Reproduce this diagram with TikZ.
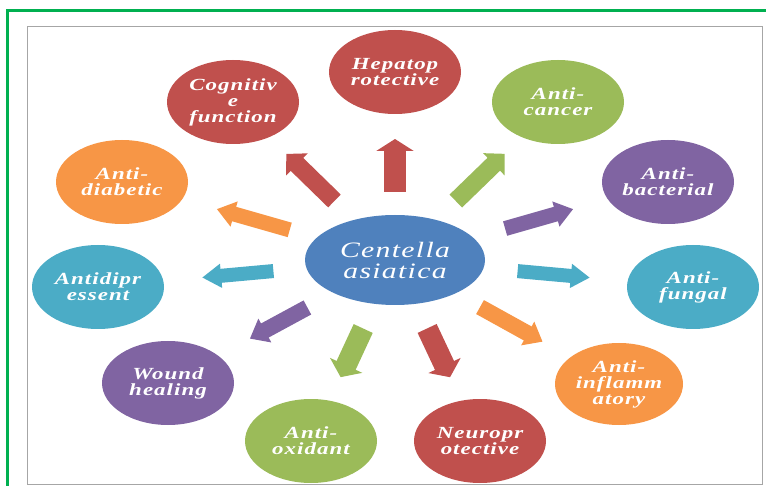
\documentclass[tikz,border=0pt]{standalone}
\usepackage{fontspec}
\setmainfont{Liberation Serif}
\newfontfamily\etiq[FakeStretch=1.35,LetterSpace=6]{Liberation Serif}
\usetikzlibrary{arrows.meta,shapes.geometric}

\definecolor{rojo}{HTML}{C0504D}
\definecolor{verdeo}{HTML}{9BBB59}
\definecolor{morado}{HTML}{8064A2}
\definecolor{turquesa}{HTML}{4BACC6}
\definecolor{naranja}{HTML}{F79646}
\definecolor{azul}{HTML}{4F81BD}
\definecolor{marco}{HTML}{00B050}

\tikzset{
  efecto/.style={ellipse, fill=#1, text=white, minimum width=132pt, minimum height=84pt,
    inner sep=0pt, outer sep=0pt, align=center,
    font=\etiq\bfseries\itshape\fontsize{17}{16}\selectfont},
  flecha/.style n args={4}{draw=#1, line width=#2, -{Triangle[width=#3, length=#4]}},
}

\begin{document}
\begin{tikzpicture}[x=1pt, y=-1pt]
	\useasboundingbox (0,0) rectangle (766,486);

	% Marcos
	\draw[marco, line width=3pt] (7,495) |- (775,11);
	\draw[gray!70, line width=1pt] (27,27) rectangle (762,484);

	% Nodo central
	\node[ellipse, fill=azul, text=white, minimum width=180pt, minimum height=90pt,
	  inner sep=0pt, align=center, font=\etiq\itshape\fontsize{22}{21}\selectfont]
	  (ctr) at (395,260) {Centella\\asiatica};

	% Efectos
	\node[efecto=rojo] (hep) at (395,72) {Hepatop\\rotective};
	\node[efecto=rojo] (cog) at (233,102) {Cognitiv\\e\\function};
	\node[efecto=verdeo] (can) at (558,102) {Anti-\\cancer};
	\node[efecto=morado] (bac) at (668,182) {Anti-\\bacterial};
	\node[efecto=turquesa] (fun) at (693,287) {Anti-\\fungal};
	\node[efecto=naranja, minimum width=128pt, minimum height=82pt] (inf) at (619,384) {Anti-\\inflamm\\atory};
	\node[efecto=rojo] (neu) at (480,441) {Neuropr\\otective};
	\node[efecto=verdeo] (oxi) at (311,441) {Anti-\\oxidant};
	\node[efecto=morado] (wou) at (168,383) {Wound\\healing};
	\node[efecto=turquesa] (dep) at (98,287) {Antidipr\\essent};
	\node[efecto=naranja] (dia) at (122,182) {Anti-\\diabetic};

	% Flechas
	\draw[flecha={rojo}{22pt}{37pt}{12pt}, shorten <=23pt, shorten >=25pt] (ctr) -- (hep);
	\draw[flecha={rojo}{18pt}{30pt}{15pt}, shorten <=27pt, shorten >=24pt] (ctr) -- (cog);
	\draw[flecha={verdeo}{18pt}{30pt}{15pt}, shorten <=27pt, shorten >=24pt] (ctr) -- (can);
	\draw[flecha={morado}{15pt}{25pt}{18pt}, shorten <=33pt, shorten >=36pt] (ctr) -- (bac);
	\draw[flecha={turquesa}{14pt}{23pt}{19pt}, shorten <=34pt, shorten >=38pt] (ctr) -- (fun);
	\draw[flecha={naranja}{16pt}{26pt}{17pt}, shorten <=28pt, shorten >=32pt] (ctr) -- (inf);
	\draw[flecha={rojo}{21pt}{35pt}{13pt}, shorten <=27pt, shorten >=26pt] (ctr) -- (neu);
	\draw[flecha={verdeo}{21pt}{35pt}{13pt}, shorten <=27pt, shorten >=26pt] (ctr) -- (oxi);
	\draw[flecha={morado}{16pt}{26pt}{17pt}, shorten <=30pt, shorten >=36pt] (ctr) -- (wou);
	\draw[flecha={turquesa}{14pt}{23pt}{19pt}, shorten <=33pt, shorten >=39pt] (ctr) -- (dep);
	\draw[flecha={naranja}{15pt}{25pt}{18pt}, shorten <=28pt, shorten >=36pt] (ctr) -- (dia);
\end{tikzpicture}
\end{document}
